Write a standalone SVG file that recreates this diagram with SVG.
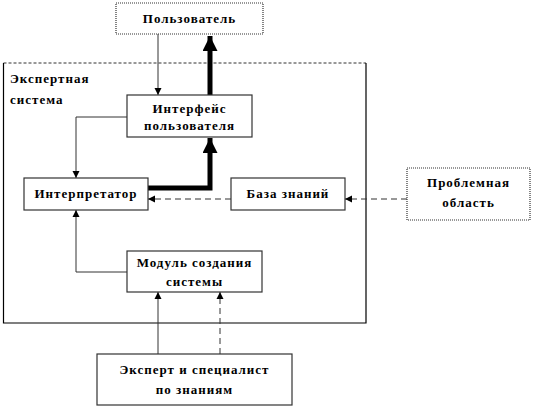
<svg xmlns="http://www.w3.org/2000/svg" width="534" height="409" viewBox="0 0 534 409">
<style>
.box{fill:#fff;stroke:#333;stroke-width:1.2}
.dot{fill:#fff;stroke:#333;stroke-width:1.2;stroke-dasharray:1 1}
text{font-family:'Liberation Serif','Times New Roman','DejaVu Serif',serif;font-weight:bold;font-size:13px;fill:#000;letter-spacing:1px}
.t{text-anchor:middle}
.thin{fill:none;stroke:#333;stroke-width:1}
.dash{fill:none;stroke:#333;stroke-width:1;stroke-dasharray:6 4}
.thick{fill:none;stroke:#000;stroke-width:5}
</style>
<defs>
<marker id="a" viewBox="0 0 10 10" refX="10" refY="5" markerWidth="7" markerHeight="9" markerUnits="userSpaceOnUse" orient="auto">
<path d="M0,0 L10,5 L0,10 z" fill="#000"/>
</marker>
<marker id="b" viewBox="0 0 10 10" refX="10" refY="5" markerWidth="16" markerHeight="15" markerUnits="userSpaceOnUse" orient="auto">
<path d="M0,0 L10,5 L0,10 z" fill="#000"/>
</marker>
</defs>
<g id="system">
<line x1="3.5" y1="63" x2="366" y2="63" stroke="#333" stroke-width="1" stroke-dasharray="3 2"/>
<polyline points="3.5,63 3.5,323 366,323 366,63" fill="none" stroke="#000" stroke-width="1.2"/>
<text x="10" y="83">Экспертная</text>
<text x="10" y="104">система</text>
</g>
<g id="connectors">
<line class="thin" x1="158" y1="34" x2="158" y2="95" marker-end="url(#a)"/>
<line class="thick" x1="210" y1="95" x2="210" y2="36" marker-end="url(#b)"/>
<polyline class="thin" points="127,117 76,117 76,178" marker-end="url(#a)"/>
<polyline class="thick" points="148,188 210,188 210,138" marker-end="url(#b)"/>
<line class="dash" x1="231" y1="199" x2="148" y2="199" marker-end="url(#a)"/>
<line class="dash" x1="407" y1="199" x2="345" y2="199" marker-end="url(#a)"/>
<polyline class="thin" points="127,272 76,272 76,210" marker-end="url(#a)"/>
<line class="thin" x1="158" y1="354" x2="158" y2="292" marker-end="url(#a)"/>
<line class="dash" x1="220" y1="354" x2="220" y2="292" marker-end="url(#a)"/>
</g>
<g id="user">
<rect class="dot" x="116" y="3" width="147" height="31"/>
<text class="t" x="189.5" y="23">Пользователь</text>
</g>
<g id="interface">
<rect class="box" x="127" y="95" width="125" height="42"/>
<text class="t" x="189.5" y="113">Интерфейс</text>
<text class="t" x="189.5" y="130">пользователя</text>
</g>
<g id="interpreter">
<rect class="box" x="24" y="178" width="124" height="32"/>
<text class="t" x="86" y="198">Интерпретатор</text>
</g>
<g id="kb">
<rect class="box" x="231" y="178" width="114" height="32"/>
<text class="t" x="288" y="198">База знаний</text>
</g>
<g id="domain">
<rect class="dot" x="407" y="168" width="123" height="52"/>
<text class="t" x="468.5" y="187">Проблемная</text>
<text class="t" x="468.5" y="207">область</text>
</g>
<g id="module">
<rect class="box" x="127" y="251" width="135" height="41"/>
<text class="t" x="194.5" y="267">Модуль создания</text>
<text class="t" x="194.5" y="286">системы</text>
</g>
<g id="expert">
<rect class="box" x="97" y="354" width="195" height="51"/>
<text class="t" x="194.5" y="374">Эксперт и специалист</text>
<text class="t" x="194.5" y="394">по знаниям</text>
</g>
</svg>
